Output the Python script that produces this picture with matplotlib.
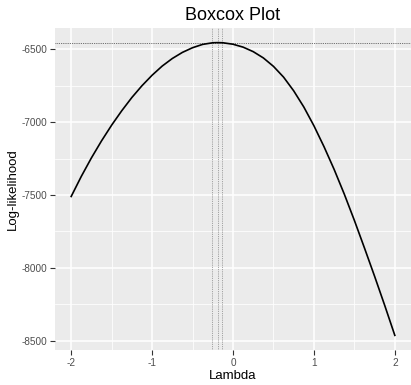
import numpy as np
import matplotlib.pyplot as plt
from matplotlib.ticker import MultipleLocator

# values
lam = [-2.0, -1.875, -1.75, -1.625, -1.5, -1.375, -1.25, -1.125, -1.0,
       -0.875, -0.75, -0.625, -0.5, -0.375, -0.25, -0.19, -0.125, 0.0,
       0.125, 0.25, 0.375, 0.5, 0.625, 0.75, 0.875, 1.0,
       1.125, 1.25, 1.375, 1.5, 1.625, 1.75, 1.875, 2.0]
loglik = [-7510, -7372, -7245, -7128, -7020, -6921, -6830, -6749, -6677,
          -6614, -6562, -6520, -6488, -6465, -6454, -6453, -6454, -6464,
          -6484, -6515, -6558, -6616, -6690, -6784, -6895, -7024,
          -7168, -7324, -7493, -7674, -7864, -8058, -8258, -8464]
ci_lines = [-0.265, -0.185, -0.14]
max_line = -6454

plt.rcParams['font.family'] = ['Liberation Sans', 'DejaVu Sans']

fig = plt.figure(figsize=(4.11, 3.85), dpi=100)
ax = fig.add_axes([0.1338, 0.0909, 0.8662, 0.8364])
ax.set_facecolor('#EBEBEB')

ax.plot(lam, loglik, color='black', lw=1.2, zorder=3)
for v in ci_lines:
    ax.axvline(v, color='#888888', lw=0.6, ls=(0, (1, 1.2)), zorder=2)
ax.axhline(max_line, color='#444444', lw=0.6, ls=(0, (1, 1.2)), zorder=2)

# ggplot style limits with 5% expansion
ymin, ymax = min(loglik), max(loglik)
pad = (ymax - ymin) * 0.05
ax.set_xlim(-2.2, 2.2)
ax.set_ylim(ymin - pad, ymax + pad)

ax.xaxis.set_major_locator(MultipleLocator(1))
ax.xaxis.set_minor_locator(MultipleLocator(0.5))
ax.yaxis.set_major_locator(MultipleLocator(500))
ax.yaxis.set_minor_locator(MultipleLocator(250))
ax.grid(which='major', color='white', lw=1.1, zorder=0)
ax.grid(which='minor', color='white', lw=0.55, zorder=0)
ax.set_axisbelow(True)
for s in ax.spines.values():
    s.set_visible(False)

ax.tick_params(which='major', length=3.5, width=0.8, color='#333333',
               labelsize=7.2, labelcolor='#4D4D4D', pad=2)
ax.tick_params(which='minor', length=0)
ax.xaxis.set_major_formatter(plt.FuncFormatter(lambda v, p: '%d' % v))
ax.yaxis.set_major_formatter(plt.FuncFormatter(lambda v, p: '%d' % v))

ax.set_xlabel('Lambda', fontsize=9.5, labelpad=1.5)
ax.set_ylabel('Log-likelihood', fontsize=9.5, labelpad=2)
ax.set_title('Boxcox Plot', fontsize=13, pad=6)

fig.savefig('out.png', dpi=100)
